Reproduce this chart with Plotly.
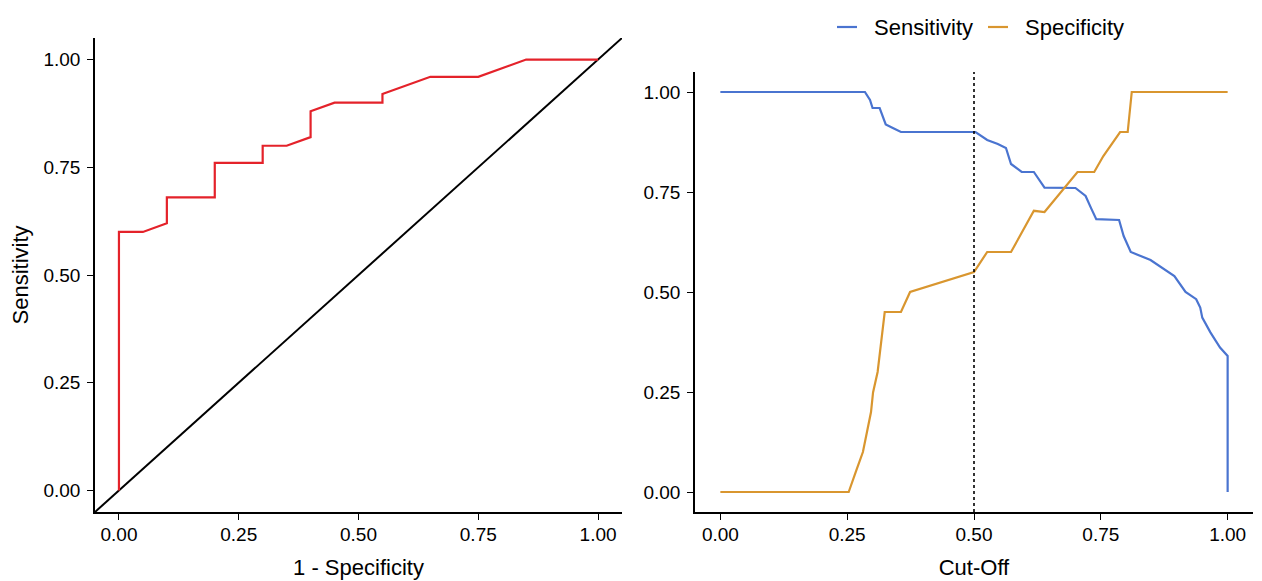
import plotly.graph_objects as go

# ROC curve (left panel)
roc_fpr = [0.00, 0.00, 0.05, 0.10, 0.10, 0.20, 0.20, 0.30, 0.30, 0.35, 0.40, 0.40,
           0.45, 0.55, 0.55, 0.65, 0.75, 0.85, 1.00]
roc_tpr = [0.00, 0.60, 0.60, 0.62, 0.68, 0.68, 0.76, 0.76, 0.80, 0.80, 0.82, 0.88,
           0.90, 0.90, 0.92, 0.96, 0.96, 1.00, 1.00]

# Sensitivity vs cut-off (right panel)
sens_cut = [0.000, 0.285, 0.295, 0.300, 0.314, 0.326, 0.340, 0.356, 0.503, 0.526,
            0.547, 0.563, 0.573, 0.594, 0.618, 0.639, 0.700, 0.720, 0.731, 0.741,
            0.786, 0.795, 0.809, 0.848, 0.895, 0.907, 0.917, 0.938, 0.946, 0.950,
            0.966, 0.985, 1.000, 1.000]
sens_val = [1.000, 1.000, 0.980, 0.960, 0.960, 0.919, 0.910, 0.900, 0.900, 0.880,
            0.870, 0.860, 0.820, 0.800, 0.800, 0.761, 0.760, 0.740, 0.709, 0.682,
            0.680, 0.640, 0.600, 0.580, 0.540, 0.517, 0.500, 0.482, 0.461, 0.436,
            0.399, 0.361, 0.340, 0.000]

# Specificity vs cut-off (right panel)
spec_cut = [0.000, 0.253, 0.268, 0.281, 0.289, 0.297, 0.301, 0.310, 0.324, 0.356,
            0.374, 0.500, 0.526, 0.573, 0.618, 0.639, 0.704, 0.737, 0.755, 0.788,
            0.803, 0.811, 1.000]
spec_val = [0.000, 0.000, 0.054, 0.100, 0.150, 0.200, 0.249, 0.300, 0.450, 0.450,
            0.500, 0.550, 0.600, 0.600, 0.703, 0.700, 0.800, 0.800, 0.840, 0.900,
            0.900, 1.000, 1.000]

series_names = ["Sensitivity", "Specificity"]
series_colors = ["#4A74D0", "#D9962F"]
optimal_cutoff = 0.5
diag = [-0.05, 1.05]
tick_vals = [0, 0.25, 0.5, 0.75, 1.0]
tick_text = ["0.00", "0.25", "0.50", "0.75", "1.00"]

# page body has an 8px margin: figure is 8px smaller, screen coords shifted by 8
OFF = 8
W, H = 1262 - OFF, 581 - OFF
FONT = "Liberation Sans, Arial, Helvetica, sans-serif"


def px(x):
    return (x - OFF) / W


def py(y):
    return (H - (y - OFF)) / H


fig = go.Figure()

fig.add_trace(go.Scatter(x=diag, y=diag, mode="lines", line=dict(color="black", width=2),
                         xaxis="x", yaxis="y", showlegend=False, hoverinfo="skip"))
fig.add_trace(go.Scatter(x=roc_fpr, y=roc_tpr, mode="lines", line=dict(color="#E4222A", width=2.2),
                         xaxis="x", yaxis="y", showlegend=False, name="ROC"))

fig.add_trace(go.Scatter(x=sens_cut, y=sens_val, mode="lines",
                         line=dict(color=series_colors[0], width=2.2),
                         xaxis="x2", yaxis="y2", name=series_names[0], showlegend=False))
fig.add_trace(go.Scatter(x=spec_cut, y=spec_val, mode="lines",
                         line=dict(color=series_colors[1], width=2.2),
                         xaxis="x2", yaxis="y2", name=series_names[1], showlegend=False))

fig.add_shape(type="line", xref="x2", yref="y2 domain", x0=optimal_cutoff, x1=optimal_cutoff,
              y0=0, y1=1, line=dict(color="black", width=1.6, dash="dot"))

# manual legend (short key lines like ggplot)
leg_y = py(27)
leg_items = [(837, 857, 872), (988, 1008, 1023)]
for (x0, x1, xt), name, col in zip(leg_items, series_names, series_colors):
    fig.add_shape(type="line", xref="paper", yref="paper", x0=px(x0), x1=px(x1),
                  y0=leg_y, y1=leg_y, line=dict(color=col, width=2.2))
    fig.add_annotation(xref="paper", yref="paper", x=px(xt), y=leg_y, text=name,
                       showarrow=False, xanchor="left", yanchor="middle",
                       font=dict(family=FONT, size=22, color="black"))

axis_common = dict(
    range=[-0.05, 1.05], tickvals=tick_vals, ticktext=tick_text,
    showgrid=False, zeroline=False, showline=True, linecolor="black", linewidth=1.6,
    ticks="outside", ticklen=6, tickwidth=1.4, tickcolor="black",
    tickfont=dict(family=FONT, size=19, color="black"), automargin=False,
)

fig.update_layout(
    width=W, height=H,
    margin=dict(l=0, r=0, t=0, b=0),
    paper_bgcolor="white", plot_bgcolor="white",
    font=dict(family=FONT, color="black"),
    showlegend=False,
    xaxis=dict(domain=[px(95), px(622)], anchor="y", ticklabelstandoff=-2,
               title=dict(text="1 - Specificity", font=dict(size=22), standoff=16), **axis_common),
    yaxis=dict(domain=[py(512), py(38)], anchor="x", ticklabelstandoff=3,
               title=dict(text="Sensitivity", font=dict(size=22), standoff=20), **axis_common),
    xaxis2=dict(domain=[px(695), px(1253)], anchor="y2", ticklabelstandoff=-2,
                title=dict(text="Cut-Off", font=dict(size=22), standoff=16), **axis_common),
    yaxis2=dict(domain=[py(512), py(72)], anchor="x2", ticklabelstandoff=3, **axis_common),
)

fig.write_html("out.html")
